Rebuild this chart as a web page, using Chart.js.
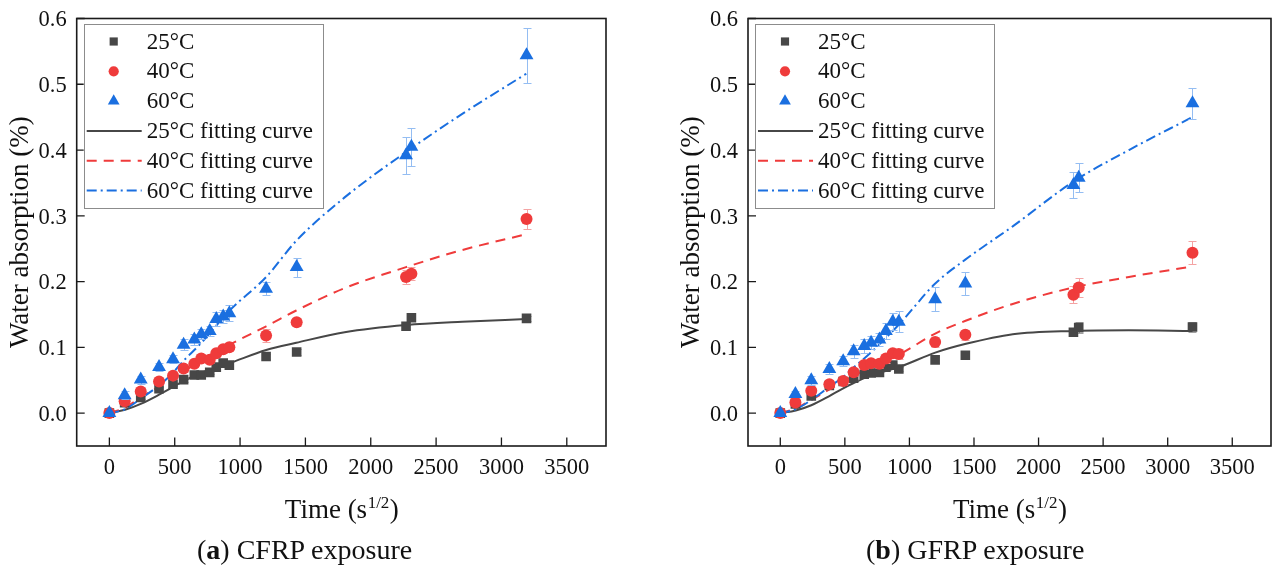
<!DOCTYPE html>
<html>
<head>
<meta charset="utf-8">
<title>Water absorption</title>
<script src="https://cdn.jsdelivr.net/npm/chart.js@4.4.1/dist/chart.umd.min.js"></script>
<style>
    html, body { margin: 0; padding: 0; background: #fff; }
    body { width: 1279px; height: 572px; position: relative; overflow: hidden; }
    .panel { position: absolute; top: 0; height: 572px; }
    #panelA { left: 0; width: 640px; }
    #panelB { left: 640px; width: 639px; }
    .caption {
        position: absolute; top: 534px; font-family: 'Liberation Serif', serif;
        font-size: 28px; color: #111; white-space: nowrap;
    }
</style>
</head>
<body>
<div class="panel" id="panelA"><canvas id="chartA" width="640" height="572"></canvas></div>
<div class="panel" id="panelB"><canvas id="chartB" width="639" height="572"></canvas></div>
<div class="caption" style="left:197px">(<b>a</b>) CFRP exposure</div>
<div class="caption" style="left:866px">(<b>b</b>) GFRP exposure</div>

<script>
// ---- data ----
const timeX = [0, 117, 240, 380, 487, 568, 650, 703, 768, 818, 871, 918, 1199, 1433, 2270, 2311, 3192];
const fitX  = [0, 120, 240, 380, 480, 560, 700, 920, 1200, 1430, 1800, 2270, 2700, 3190];

const xTicks = [0, 500, 1000, 1500, 2000, 2500, 3000, 3500];
const yTicks = [0, 0.1, 0.2, 0.3, 0.4, 0.5, 0.6];
const tempLabels = ['25°C', '40°C', '60°C'];

// CFRP
const cfrp25 = [0, 0.016, 0.024, 0.037, 0.044, 0.051, 0.058, 0.058, 0.062, 0.070, 0.076, 0.073, 0.086, 0.093, 0.132, 0.145, 0.144];
const cfrp40 = [0, 0.018, 0.033, 0.048, 0.057, 0.068, 0.075, 0.083, 0.081, 0.091, 0.097, 0.100, 0.118, 0.138, 0.207, 0.212, 0.295];
const cfrp60 = [0, 0.027, 0.051, 0.070, 0.082, 0.104, 0.112, 0.120, 0.125, 0.143, 0.147, 0.152, 0.189, 0.222, 0.392, 0.405, 0.544];
const cfrp25Err = [0, 0.003, 0.003, 0.003, 0.003, 0.003, 0.003, 0.003, 0.003, 0.003, 0.003, 0.003, 0.004, 0.004, 0.004, 0.005, 0.004];
const cfrp40Err = [0, 0.004, 0.005, 0.005, 0.005, 0.005, 0.005, 0.005, 0.005, 0.005, 0.005, 0.005, 0.010, 0.006, 0.010, 0.010, 0.015];
const cfrp60Err = [0, 0.006, 0.006, 0.006, 0.006, 0.008, 0.008, 0.008, 0.008, 0.010, 0.010, 0.012, 0.010, 0.0145, 0.028, 0.029, 0.042];
const cfrpFit25 = [0, 0.005, 0.014, 0.028, 0.039, 0.048, 0.061, 0.076, 0.096, 0.107, 0.123, 0.134, 0.139, 0.143];
const cfrpFit40 = [0, 0.008, 0.024, 0.040, 0.052, 0.062, 0.080, 0.104, 0.132, 0.156, 0.190, 0.222, 0.248, 0.272];
const cfrpFit60 = [0, 0.006, 0.022, 0.042, 0.060, 0.078, 0.106, 0.156, 0.207, 0.262, 0.328, 0.397, 0.455, 0.516];

// GFRP
const gfrp25 = [0, 0.014, 0.026, 0.042, 0.048, 0.053, 0.059, 0.061, 0.062, 0.070, 0.073, 0.067, 0.081, 0.088, 0.123, 0.130, 0.131];
const gfrp40 = [0, 0.016, 0.034, 0.044, 0.049, 0.062, 0.073, 0.076, 0.075, 0.083, 0.091, 0.090, 0.108, 0.119, 0.180, 0.191, 0.244];
const gfrp60 = [0, 0.029, 0.050, 0.067, 0.079, 0.094, 0.102, 0.107, 0.112, 0.125, 0.139, 0.139, 0.173, 0.197, 0.347, 0.358, 0.471];
const gfrp25Err = [0, 0.003, 0.003, 0.003, 0.003, 0.003, 0.003, 0.003, 0.003, 0.003, 0.003, 0.003, 0.005, 0.006, 0.006, 0.008, 0.007];
const gfrp40Err = [0, 0.004, 0.005, 0.005, 0.006, 0.006, 0.006, 0.006, 0.006, 0.007, 0.007, 0.008, 0.008, 0.008, 0.013, 0.014, 0.018];
const gfrp60Err = [0, 0.005, 0.007, 0.008, 0.008, 0.010, 0.010, 0.010, 0.010, 0.012, 0.013, 0.016, 0.018, 0.017, 0.020, 0.022, 0.024];
const gfrpFit25 = [0, 0.004, 0.012, 0.026, 0.037, 0.045, 0.057, 0.070, 0.092, 0.105, 0.120, 0.125, 0.126, 0.125];
const gfrpFit40 = [0, 0.007, 0.020, 0.036, 0.047, 0.056, 0.070, 0.089, 0.121, 0.140, 0.166, 0.191, 0.207, 0.223];
const gfrpFit60 = [0, 0.006, 0.020, 0.040, 0.054, 0.068, 0.092, 0.135, 0.197, 0.233, 0.284, 0.352, 0.400, 0.450];

// ---- styles ----
const SERIF = "'Liberation Serif', 'Times New Roman', serif";
const colors = ['#474747', '#ef3b3b', '#1a6fe0'];
const errColors = ['#a0a0a0', '#f4a3a3', '#94bdf2'];
const markers = [
    { pointStyle: 'rect', radius: 6.8 },
    { pointStyle: 'circle', radius: 6.0 },
    { pointStyle: 'triangle', radius: 8.0 }
];
const dashes = [[], [10, 7], [10, 4, 2, 4]];

const pairs = (xs, ys) => xs.map((x, i) => ({ x: x, y: ys[i] }));

// error bars, drawn just before each scatter dataset so markers sit on top
const errorBarPlugin = {
    id: 'errorBars',
    beforeDatasetDraw(chart, args) {
        const ds = chart.data.datasets[args.index];
        if (!ds.errors) return;
        const ctx = chart.ctx;
        const y = chart.scales.y;
        ctx.save();
        ctx.strokeStyle = ds.errorColor;
        ctx.lineWidth = 1;
        args.meta.data.forEach((pt, i) => {
            const err = ds.errors[i];
            if (!err) return;
            const v = ds.data[i].y;
            const top = Math.round(y.getPixelForValue(v + err)) + 0.5;
            const bot = Math.round(y.getPixelForValue(v - err)) + 0.5;
            const px = Math.round(pt.x) + 0.5;
            ctx.beginPath();
            ctx.moveTo(px, top); ctx.lineTo(px, bot);
            ctx.moveTo(px - 4, top); ctx.lineTo(px + 4, top);
            ctx.moveTo(px - 4, bot); ctx.lineTo(px + 4, bot);
            ctx.stroke();
        });
        ctx.restore();
    }
};

// box frame, inward ticks, axis titles and the legend box
const framePlugin = {
    id: 'frame',
    afterDraw(chart) {
        const { ctx, chartArea: a, scales } = chart;
        ctx.save();
        ctx.strokeStyle = '#1a1a1a';
        ctx.lineWidth = 1.6;
        ctx.strokeRect(a.left, a.top, a.right - a.left, a.bottom - a.top);

        ctx.lineWidth = 1.3;
        ctx.beginPath();
        xTicks.forEach(v => {
            const px = scales.x.getPixelForValue(v);
            ctx.moveTo(px, a.bottom); ctx.lineTo(px, a.bottom - 8.5);
        });
        yTicks.forEach(v => {
            const py = scales.y.getPixelForValue(v);
            ctx.moveTo(a.left, py); ctx.lineTo(a.left + 8, py);
        });
        ctx.stroke();

        // y title
        ctx.fillStyle = '#111';
        ctx.font = '27px ' + SERIF;
        ctx.textAlign = 'center';
        ctx.textBaseline = 'middle';
        ctx.save();
        ctx.translate(a.left - 56, (a.top + a.bottom) / 2);
        ctx.rotate(-Math.PI / 2);
        ctx.fillText('Water absorption (%)', 0, 0);
        ctx.restore();

        // x title with superscript
        const main = 'Time (s', sup = '1/2', close = ')';
        ctx.textAlign = 'left';
        ctx.textBaseline = 'alphabetic';
        ctx.font = '27px ' + SERIF;
        const w1 = ctx.measureText(main).width;
        const w3 = ctx.measureText(close).width;
        ctx.font = '17px ' + SERIF;
        const w2 = ctx.measureText(sup).width;
        const tx = (a.left + a.right) / 2 - (w1 + w2 + w3) / 2;
        const base = 518;
        ctx.font = '27px ' + SERIF;
        ctx.fillText(main, tx, base);
        ctx.font = '17px ' + SERIF;
        ctx.fillText(sup, tx + w1 + 0.5, base - 10);
        ctx.font = '27px ' + SERIF;
        ctx.fillText(close, tx + w1 + w2 + 1, base);

        // legend
        const lx = a.left + 7, ly = a.top + 5.5, lw = 239, lh = 184;
        ctx.fillStyle = '#fff';
        ctx.fillRect(lx, ly, lw, lh);
        ctx.strokeStyle = '#8c8c8c';
        ctx.lineWidth = 1;
        ctx.strokeRect(Math.round(lx) + 0.5, Math.round(ly) + 0.5, lw, lh);
        ctx.font = '23px ' + SERIF;
        ctx.textBaseline = 'middle';
        chart.data.datasets.forEach((ds, i) => {
            const ry = ly + 17.5 + i * 29.8;
            if (ds.errors) {
                ctx.fillStyle = ds.backgroundColor;
                Chart.helpers.drawPoint(ctx, {
                    pointStyle: ds.pointStyle,
                    radius: ds.pointRadius * 0.85,
                    borderWidth: 0
                }, lx + 30, ry);
            } else {
                ctx.save();
                ctx.strokeStyle = ds.borderColor;
                ctx.lineWidth = ds.borderWidth;
                ctx.setLineDash(ds.borderDash);
                ctx.beginPath();
                ctx.moveTo(lx + 3, ry); ctx.lineTo(lx + 58, ry);
                ctx.stroke();
                ctx.restore();
            }
            ctx.fillStyle = '#111';
            ctx.fillText(ds.label, lx + 63, ry + 1);
        });
        ctx.restore();
    }
};

function makePanel(canvasId, values, errors, fits, axisWidth, rightPad) {
    const datasets = [];
    values.forEach((ys, i) => {
        datasets.push({
            type: 'scatter',
            label: tempLabels[i],
            data: pairs(timeX, ys),
            errors: errors[i],
            errorColor: errColors[i],
            pointStyle: markers[i].pointStyle,
            pointRadius: markers[i].radius,
            pointHoverRadius: markers[i].radius,
            pointBorderWidth: 0,
            backgroundColor: colors[i],
            borderColor: colors[i],
            order: 3 - i
        });
    });
    fits.forEach((ys, i) => {
        datasets.push({
            type: 'line',
            label: tempLabels[i] + ' fitting curve',
            data: pairs(fitX, ys),
            borderColor: colors[i],
            backgroundColor: colors[i],
            borderWidth: 2,
            borderDash: dashes[i],
            cubicInterpolationMode: 'monotone',
            pointRadius: 0,
            fill: false,
            order: 6 - i
        });
    });

    return new Chart(document.getElementById(canvasId), {
        type: 'scatter',
        data: { datasets: datasets },
        options: {
            responsive: false,
            animation: false,
            layout: { padding: { top: 18.5, right: rightPad, left: 0, bottom: 0 } },
            plugins: {
                legend: { display: false },
                tooltip: { enabled: false }
            },
            scales: {
                x: {
                    type: 'linear',
                    min: -250,
                    max: 3800,
                    grid: { display: false },
                    border: { display: false },
                    afterBuildTicks: scale => { scale.ticks = xTicks.map(v => ({ value: v })); },
                    afterFit: scale => { scale.height = 126; },
                    ticks: {
                        color: '#111',
                        font: { family: SERIF, size: 22.5 },
                        padding: 1,
                        maxRotation: 0,
                        autoSkip: false,
                        callback: v => String(v)
                    }
                },
                y: {
                    type: 'linear',
                    min: -0.05,
                    max: 0.6,
                    grid: { display: false },
                    border: { display: false },
                    afterBuildTicks: scale => { scale.ticks = yTicks.map(v => ({ value: v })); },
                    afterFit: scale => { scale.width = axisWidth; },
                    ticks: {
                        color: '#111',
                        font: { family: SERIF, size: 22.5 },
                        padding: 2,
                        labelOffset: 2,
                        callback: v => v.toFixed(1)
                    }
                }
            }
        },
        plugins: [errorBarPlugin, framePlugin]
    });
}

makePanel('chartA',
    [cfrp25, cfrp40, cfrp60],
    [cfrp25Err, cfrp40Err, cfrp60Err],
    [cfrpFit25, cfrpFit40, cfrpFit60],
    76.7, 34);

makePanel('chartB',
    [gfrp25, gfrp40, gfrp60],
    [gfrp25Err, gfrp40Err, gfrp60Err],
    [gfrpFit25, gfrpFit40, gfrpFit60],
    108, 2);
</script>
</body>
</html>
